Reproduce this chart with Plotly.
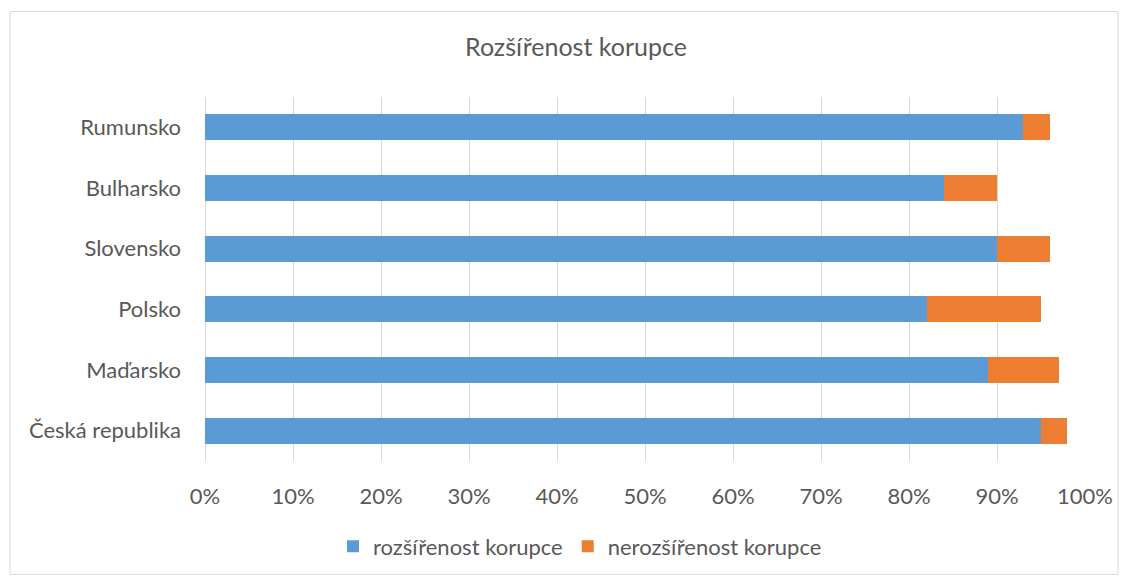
import plotly.graph_objects as go

countries = ["Česká republika", "Maďarsko", "Polsko", "Slovensko", "Bulharsko", "Rumunsko"]
rozsirenost = [0.95, 0.89, 0.82, 0.90, 0.84, 0.93]
nerozsirenost = [0.03, 0.08, 0.13, 0.06, 0.06, 0.03]
x_ticks = [0, 0.1, 0.2, 0.3, 0.4, 0.5, 0.6, 0.7, 0.8, 0.9, 1.0]

font = "Lato"
grey = "#595959"

# page body adds an 8px margin, so the figure is a bit smaller than the window
W, H = 1120, 572
L, T, PW, PH = 197, 89, 880, 366

fig = go.Figure()
fig.add_trace(go.Bar(y=countries, x=rozsirenost, orientation="h",
                     name="rozšířenost korupce", marker_color="#5B9BD5",
                     marker_line_width=0))
fig.add_trace(go.Bar(y=countries, x=nerozsirenost, orientation="h",
                     name="nerozšířenost korupce", marker_color="#ED7D31",
                     marker_line_width=0))

# outer chart border
fig.add_shape(type="rect", xref="paper", yref="paper",
              x0=(2 - L) / PW, x1=(1110 - L) / PW,
              y0=(T + PH - 569) / PH, y1=(T + PH - 3) / PH,
              line=dict(color="#D9D9D9", width=1), layer="below")

fig.update_layout(
    width=W, height=H,
    margin=dict(l=L, r=W - L - PW, t=T, b=H - T - PH),
    paper_bgcolor="white", plot_bgcolor="white",
    barmode="stack", bargap=0.57,
    font=dict(family=font, size=22, color=grey),
    title=dict(text="Rozšířenost korupce", x=568 / W, xanchor="center",
               y=1 - 39 / H, yanchor="middle",
               font=dict(family=font, size=25, color=grey)),
    legend=dict(orientation="h", x=(572 - L) / PW, xanchor="center",
                y=(T + PH - 541) / PH, yanchor="middle",
                font=dict(family=font, size=22, color=grey),
                itemwidth=30, traceorder="normal"),
)
fig.update_xaxes(range=[0, 1], tickvals=x_ticks, tickformat=".0%",
                 showgrid=True, gridcolor="#D9D9D9", gridwidth=1,
                 zeroline=True, zerolinecolor="#D9D9D9", zerolinewidth=1,
                 showline=False, ticks="", ticklabelstandoff=20, fixedrange=True)
fig.update_yaxes(showgrid=False, showline=False, ticks="",
                 ticklabelstandoff=23, fixedrange=True)

fig.write_html("out.html")
